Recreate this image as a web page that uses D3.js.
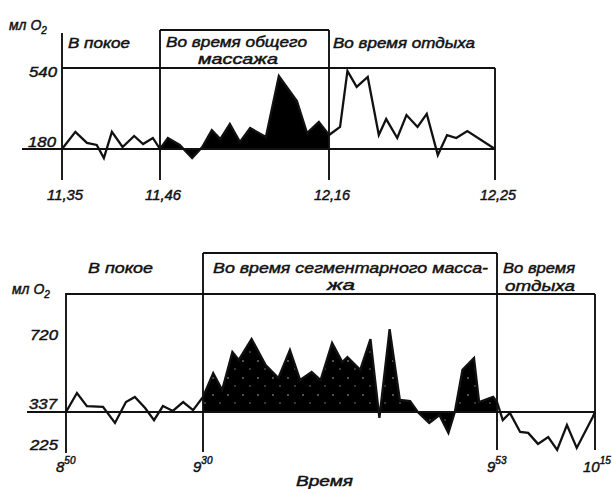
<!DOCTYPE html>
<html>
<head>
<meta charset="utf-8">
<script src="https://cdn.jsdelivr.net/npm/d3@7"></script>
<style>
  body { margin: 0; background: #fff; }
  text { font-family: "Liberation Sans", Arial, sans-serif; font-style: italic; fill: #111;
         stroke: #111; stroke-width: 0.45px; }
</style>
</head>
<body>
<svg id="vis" width="613" height="489"></svg>
<script>
// ---- top chart data (minutes from 11.35, ml O2) ----
var topTickLabels = ["11,35", "11,46", "12,16", "12,25"]
var topTickMinutes = [0, 11, 41, 50]
var topYTicks = [540, 180]
var topRest = [[0,180],[1.5,256],[2.8,207],[3.9,198],[4.7,140],[5.6,256],[6.8,189],[8.1,238],[9.1,202],[10.2,229],[11,180]]
var topMassage = [[11,180],[12.4,229],[14.5,198],[16.7,140],[18.5,189],[20.2,264],[21.7,224],[23.4,291],[25.2,211],[27,273],[29.8,233],[32.1,504],[35.3,393],[37.1,251],[39.2,300],[41,242]]
var topAfter = [[41,242],[41.6,278],[42,527],[42.5,456],[43.1,500],[43.7,242],[44.1,313],[44.7,229],[45.2,331],[45.8,278],[46.3,336],[46.9,153],[47.4,242],[47.9,229],[48.5,260],[50,180]]
var topPhases = ["В покое", "Во время общего", "массажа", "Во время отдыха"]

// ---- bottom chart data (minutes from 8.50, ml O2) ----
var botTickHours = ["8", "9", "9", "10"]
var botTickSup = ["50", "30", "53", "15"]
var botTickMinutes = [0, 40, 63, 85]
var botYTicks = [720, 337, 225]
var botRest = [[0,337],[3.2,427],[6.1,365],[10.8,361],[14.3,302],[17.5,384],[20.1,408],[23.1,356],[25.7,311],[28.3,365],[31.2,342],[34.2,384],[37.1,346],[40,408]]
var botMassage = [[40,408],[40.8,521],[41.5,441],[42.3,621],[42.8,583],[43.8,682],[44.9,559],[45.9,498],[46.8,630],[47.6,488],[48.5,526],[49.2,488],[50.1,663],[50.9,573],[51.3,597],[52.3,536],[53.1,682],[53.8,318],[54.6,729],[55.4,394],[56.2,389],[56.8,337],[57.7,302],[58.5,327],[59.2,270],[59.7,337],[60.3,536],[61.2,592],[61.6,384],[62.7,408],[63,384]]
var botAfter = [[63,384],[64.3,311],[65.9,334],[68.2,273],[70,270],[72.2,235],[74.5,257],[76.5,216],[78.7,295],[80.9,222],[84.5,321],[85,337]]
var botPhases = ["В покое", "Во время сегментарного масса-", "жа", "Во время", "отдыха"]

var svg = d3.select("#vis")
var defs = svg.append("defs")
// speckled black fill of the lower chart
var pat = defs.append("pattern").attr("id", "speckle").attr("patternUnits", "userSpaceOnUse")
    .attr("width", 15).attr("height", 17)
pat.append("rect").attr("width", 15).attr("height", 17).attr("fill", "#000")
pat.append("circle").attr("cx", 3).attr("cy", 4).attr("r", 0.8).attr("fill", "#bbb")
pat.append("circle").attr("cx", 10).attr("cy", 12).attr("r", 0.7).attr("fill", "#999")

function seg(g, x1, y1, x2, y2) {
    g.append("line").attr("x1", x1).attr("y1", y1).attr("x2", x2).attr("y2", y2)
        .style("stroke", "#111").style("stroke-width", 1.9)
}
function label(g, txt, x, y, len, size) {
    var t = g.append("text").attr("x", x).attr("y", y).style("font-size", (size || 15) + "px").text(txt)
    if (len) t.attr("textLength", len).attr("lengthAdjust", "spacingAndGlyphs")
    return t
}
function unitLabel(g, x, y) {
    var t = g.append("text").attr("x", x).attr("y", y).style("font-size", "14px")
    t.append("tspan").text("мл O")
    t.append("tspan").attr("dy", 4).style("font-size", "10px").text("2")
}

// ================= top chart =================
var gt = svg.append("g")
var xt = d3.scaleLinear().domain(topTickMinutes).range([62, 160, 329, 495])
var yt = d3.scaleLinear().domain([180, 540]).range([149, 68])

var topArea = d3.area().x(d => xt(d[0])).y0(yt(180)).y1(d => yt(d[1]))
var topLine = d3.line().x(d => xt(d[0])).y(d => yt(d[1]))
gt.append("path").attr("d", topArea(topMassage)).attr("fill", "#000")

seg(gt, xt(0), 33, xt(0), 180)
seg(gt, xt(0), yt(540), xt(50), yt(540))
seg(gt, 22, yt(180), xt(50), yt(180))
seg(gt, xt(11), 30, xt(11), 180)
seg(gt, xt(41), 30, xt(41), 180)
seg(gt, xt(11), 30, xt(41), 30)
seg(gt, xt(50), yt(540), xt(50), 180)

gt.append("path").attr("d", topLine(topRest.concat(topMassage.slice(1), topAfter.slice(1))))
    .attr("fill", "none").attr("stroke", "#111").attr("stroke-width", 2.3)

topTickLabels.forEach(function(l, i) {
    label(gt, l, xt(topTickMinutes[i]) + 3, 200, 36, 14).attr("text-anchor", "middle")
})
label(gt, "540", 29, 77, 28, 15)
label(gt, "180", 28, 147, 28, 15)
unitLabel(gt, 9, 30)

label(gt, topPhases[0], 68, 48, 62, 14)
label(gt, topPhases[1], 166, 47, 141, 14)
label(gt, topPhases[2], 198, 64, 80, 14)
label(gt, topPhases[3], 333, 48, 142, 14)

// ================= bottom chart =================
var gb = svg.append("g")
var xb = d3.scaleLinear().domain(botTickMinutes).range([66, 203, 497, 595])
var yb = d3.scaleLinear().domain([225, 337, 720]).range([447, 412, 331])

var botArea = d3.area().x(d => xb(d[0])).y0(yb(337)).y1(d => yb(d[1]))
var botLine = d3.line().x(d => xb(d[0])).y(d => yb(d[1]))
gb.append("path").attr("d", botArea(botMassage)).attr("fill", "url(#speckle)")

seg(gb, xb(0), 293, xb(0), 453)
seg(gb, xb(0), 294, xb(85), 294)
seg(gb, 27, yb(337), xb(85), yb(337))
seg(gb, xb(40), 253, xb(40), 452)
seg(gb, xb(63), 253, xb(63), 450)
seg(gb, xb(40), 253, xb(63), 253)
seg(gb, xb(85), 294, xb(85), 450)

gb.append("path").attr("d", botLine(botRest.concat(botMassage.slice(1), botAfter.slice(1))))
    .attr("fill", "none").attr("stroke", "#111").attr("stroke-width", 2.3)

botTickHours.forEach(function(h, i) {
    var t = gb.append("text").attr("x", xb(botTickMinutes[i]) - (h.length > 1 ? 12 : 10)).attr("y", 472)
        .style("font-size", "15px")
    t.append("tspan").text(h)
    t.append("tspan").attr("dy", -8).style("font-size", "10px").text(botTickSup[i])
})
label(gb, "720", 30, 340, 28, 15)
label(gb, "337", 29, 409, 28, 15)
label(gb, "225", 30, 450, 28, 15)
unitLabel(gb, 12, 294)

label(gb, botPhases[0], 88, 273, 65)
label(gb, botPhases[1], 213, 273, 275)
label(gb, botPhases[2], 327, 290, 28)
label(gb, botPhases[3], 503, 273, 72)
label(gb, botPhases[4], 505, 291, 70)
label(gb, "Время", 296, 486, 57, 14)
</script>
</body>
</html>
